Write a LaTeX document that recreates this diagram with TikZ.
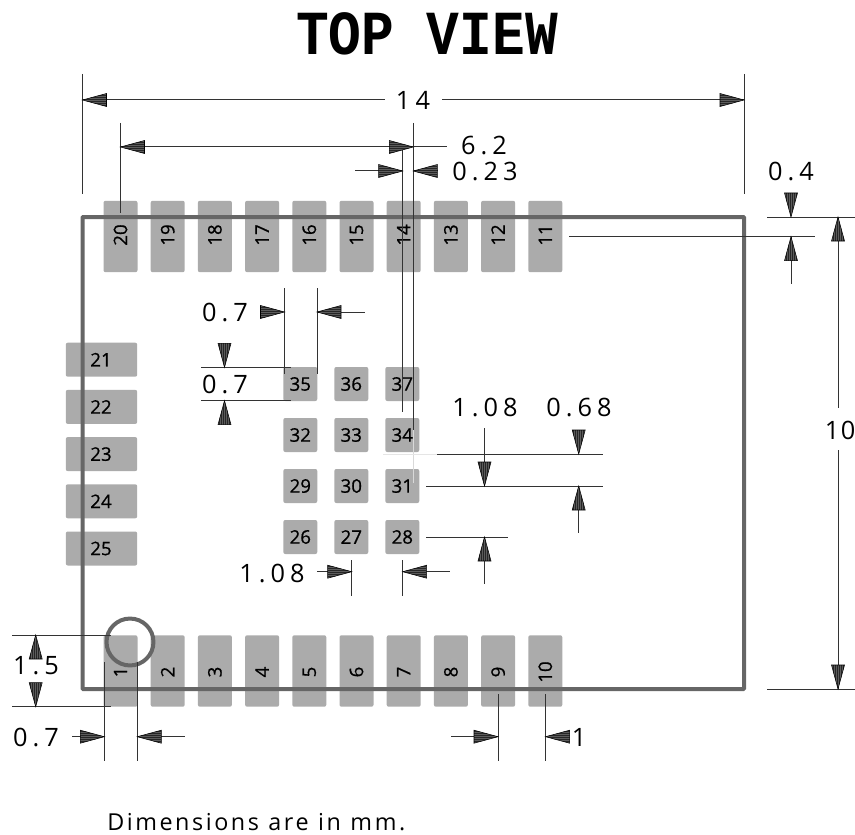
\documentclass[tikz,border=0pt]{standalone}
\usepackage{fontspec}
\setmainfont{Open Sans}
\newfontfamily\titlef[FakeStretch=0.87]{Liberation Mono Bold}
\newfontfamily\dimf[LetterSpace=20]{Open Sans}
\newfontfamily\dimtightf[LetterSpace=6]{Open Sans}
\newfontfamily\notef[LetterSpace=11,WordSpace=1.1]{Open Sans}
\newfontfamily\padf[FakeBold=0.7]{Open Sans}
\definecolor{padgrey}{HTML}{ABABAB}
\definecolor{bodygrey}{HTML}{666666}
\definecolor{tipgrey}{HTML}{5C5C5C}
\tikzset{
  x=0.75pt,y=-0.75pt,
  padbox/.style={fill=padgrey,draw=none,rounded corners=1.5pt,inner sep=0,outer sep=0,anchor=center},
  padtxt/.style={font=\padf\fontsize{14}{14}\selectfont,text=black,inner sep=0},
  dimtxt/.style={font=\dimf\fontsize{19}{19}\selectfont,text=black,inner sep=0},
  dimtight/.style={font=\dimtightf\fontsize{19}{19}\selectfont,text=black,inner sep=0},
  dimline/.style={draw=black!80,line width=0.75pt},
  tip/.pic={
    \fill[tipgrey] (0,0)--(-24,-6.5)--(-24,6.5)--cycle;
    \begin{scope}
      \clip (0,0)--(-24,-6.5)--(-24,6.5)--cycle;
      \foreach \s in {-5,-3,-1,1,3,5}
        \draw[black!85,line width=0.4pt] (-24,\s)--(0,\s);
    \end{scope}
    \draw[black,line width=0.4pt,line join=miter] (0,0)--(-24,-6.5)--(-24,6.5)--cycle;
  }
}
\newcommand{\atip}[3]{\pic[rotate=#3] at (#1,#2) {tip};}
\begin{document}
\begin{tikzpicture}
\useasboundingbox (0,0) rectangle (855,834);
% pads top and bottom
\foreach \n [count=\i from 0] in {20,19,18,17,16,15,14,13,12,11}{
  \pgfmathsetmacro\cx{120.5+47.2*\i}
  \node[padbox,minimum width=25.5pt,minimum height=53.6pt] (p\n) at (\cx,236.5) {};
  \node[padtxt,rotate=90] (l\n) at (\cx,235) {\n};
}
\foreach \n [count=\i from 0] in {1,2,3,4,5,6,7,8,9,10}{
  \pgfmathsetmacro\cx{120.5+47.2*\i}
  \node[padbox,minimum width=25.5pt,minimum height=53.6pt] (p\n) at (\cx,671) {};
  \node[padtxt,rotate=90] (l\n) at (\cx,672) {\n};
}
\foreach \n [count=\i from 0] in {21,22,23,24,25}{
  \pgfmathsetmacro\cy{359.7+47.2*\i}
  \node[padbox,minimum width=53.6pt,minimum height=25.5pt] (p\n) at (101.5,\cy) {};
  \node[padtxt] (l\n) at (101,\cy) {\n};
}
\foreach \n/\c/\r in {35/0/0,36/1/0,37/2/0,32/0/1,33/1/1,34/2/1,29/0/2,30/1/2,31/2/2,26/0/3,27/1/3,28/2/3}{
  \pgfmathsetmacro\cx{300.3+51*\c}
  \pgfmathsetmacro\cy{384+51*\r}
  \node[padbox,minimum width=25.5pt,minimum height=25.5pt] (p\n) at (\cx,\cy) {};
  \node[padtxt] (l\n) at (\cx,\cy) {\n};
}
% body
\draw[bodygrey,line width=3pt,rounded corners=0.5pt] (82.5,217) rectangle (744,689);
\node[draw=bodygrey,line width=3pt,circle,minimum size=35.2pt,inner sep=0] (pin1) at (130,642) {};
% title
\node[font=\titlef\fontsize{47}{47}\selectfont,inner sep=0] (title) at (427,34) {TOP VIEW};
% dim 14
\draw[dimline] (82.5,74)--(82.5,194);
\draw[dimline] (744,74)--(744,194);
\draw[dimline] (82.5,100)--(385,100);
\draw[dimline] (442,100)--(744,100);
\atip{82.5}{100}{180}\atip{744}{100}{0}
\node[dimtxt] (d14) at (413,100) {14};
% 6.2
\draw[dimline] (120.5,123)--(120.5,213);
\draw[dimline] (120.5,147)--(447,147);
\draw[dimline] (413.3,123)--(413.3,430);
\draw[black!15,line width=0.75pt] (413.3,430)--(413.3,483);
\draw[dimline] (402.7,147)--(402.7,411.7);
\atip{120.5}{147}{180}\atip{413.3}{147}{0}
\node[dimtxt] (d62) at (484,146) {6.2};
% 0.23
\draw[dimline] (355,171)--(402.7,171);
\draw[dimline] (413.3,171)--(438,171);
\atip{402.7}{171}{0}\atip{413.3}{171}{180}
\node[dimtxt] (d023) at (485,171) {0.23};
% 0.7 top
\draw[dimline] (284.5,288)--(284.5,374);
\draw[dimline] (317,288)--(317,374);
\draw[dimline] (317,312)--(365,312);
\atip{284.5}{312}{0}\atip{317}{312}{180}
\node[dimtxt] (d07a) at (225,312) {0.7};
% 0.7 vert
\draw[dimline] (201,367.3)--(291,367.3);
\draw[dimline] (201,400.7)--(291,400.7);
\atip{224.5}{367.3}{-90}\atip{224.5}{400.7}{90}
\node[dimtxt] (d07b) at (225,384) {0.7};
% 1.08/0.68 horizontals
\draw[black!10,line width=0.75pt] (383,454)--(437,454);
\draw[dimline] (437,454)--(603,454);
\draw[dimline] (426,486)--(603,486);
\draw[dimline] (426,537)--(508,537);
\draw[dimline] (484.5,428)--(484.5,486);
\draw[dimline] (484.5,537)--(484.5,584);
\atip{484.5}{486}{-90}\atip{484.5}{537}{90}
\node[dimtxt] (d108a) at (485,407) {1.08};
\draw[dimline] (578.7,486)--(578.7,533);
\atip{578.7}{454}{-90}\atip{578.7}{486}{90}
\node[dimtxt] (d068) at (579,407) {0.68};
% 1.08 horiz
\draw[dimline] (351.7,560)--(351.7,596);
\draw[dimline] (402.7,560)--(402.7,596);
\draw[dimline] (317,571.7)--(351.7,571.7);
\draw[dimline] (402.7,571.7)--(450,571.7);
\atip{351.7}{571.7}{0}\atip{402.7}{571.7}{180}
\node[dimtxt] (d108b) at (272,573) {1.08};
% 0.4
\draw[dimline] (767,217)--(855,217);
\draw[dimline] (569,236.7)--(815,236.7);
\draw[dimline] (791,236.7)--(791,284);
\atip{791}{217}{-90}\atip{791}{236.7}{90}
\node[dimtxt] (d04) at (791,171) {0.4};
% 10
\draw[dimline] (767,689)--(855,689);
\draw[dimline] (838,217)--(838,408);
\draw[dimline] (838,450)--(838,689);
\atip{838}{217}{90}\atip{838}{689}{-90}
\node[dimtight] (d10) at (840,430) {10};
% 1.5
\draw[dimline] (12,635)--(111,635);
\draw[dimline] (12,706.7)--(111,706.7);
\atip{35.7}{635}{90}\atip{35.7}{706.7}{-90}
\node[dimtxt] (d15) at (36,666) {1.5};
% 0.7 bottom
\draw[dimline] (104.3,662)--(104.3,760.7);
\draw[dimline] (137.3,662)--(137.3,760.7);
\draw[dimline] (72,736.7)--(104.3,736.7);
\draw[dimline] (137.3,736.7)--(185,736.7);
\atip{104.3}{736.7}{0}\atip{137.3}{736.7}{180}
\node[dimtxt] (d07c) at (36,737) {0.7};
% 1
\draw[dimline] (498,694)--(498,760.7);
\draw[dimline] (545.6,694)--(545.6,760.7);
\draw[dimline] (451,736.7)--(498,736.7);
\atip{498}{736.7}{0}\atip{545.6}{736.7}{180}
\node[dimtxt] (d1) at (579,737) {1};
% note
\node[font=\notef\fontsize{17.5}{17.5}\selectfont,inner sep=0,anchor=base west] (note) at (107,830) {Dimensions are in mm.};
\end{tikzpicture}
\end{document}
